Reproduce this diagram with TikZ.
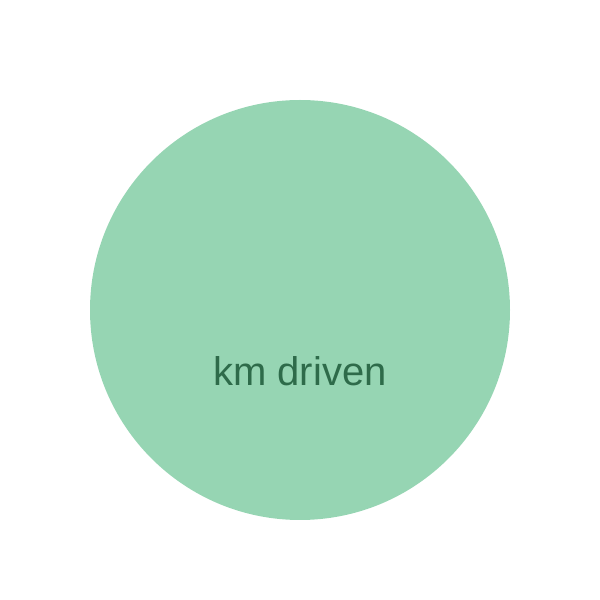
\documentclass[tikz,border=0pt]{standalone}
\usepackage{fontspec}
\setmainfont{Liberation Sans}
\usepackage{xcolor}
\usetikzlibrary{positioning}
\definecolor{blobfill}{HTML}{96D5B3}
\definecolor{blobtext}{HTML}{2E6B4A}

\begin{document}
\begin{tikzpicture}[x=1pt, y=1pt]
  \tikzstyle{blob}=[circle, fill=blobfill, minimum size=420pt, inner sep=0pt]
  \tikzstyle{lbl}=[text=blobtext, font=\fontsize{40}{48}\selectfont, inner sep=0pt, anchor=base]
  \useasboundingbox (0,0) rectangle (600,600);
  \node[blob] (km) at (300,290) {};
  \node[lbl] (kmlabel) at (300,214) {km driven};
\end{tikzpicture}
\end{document}
